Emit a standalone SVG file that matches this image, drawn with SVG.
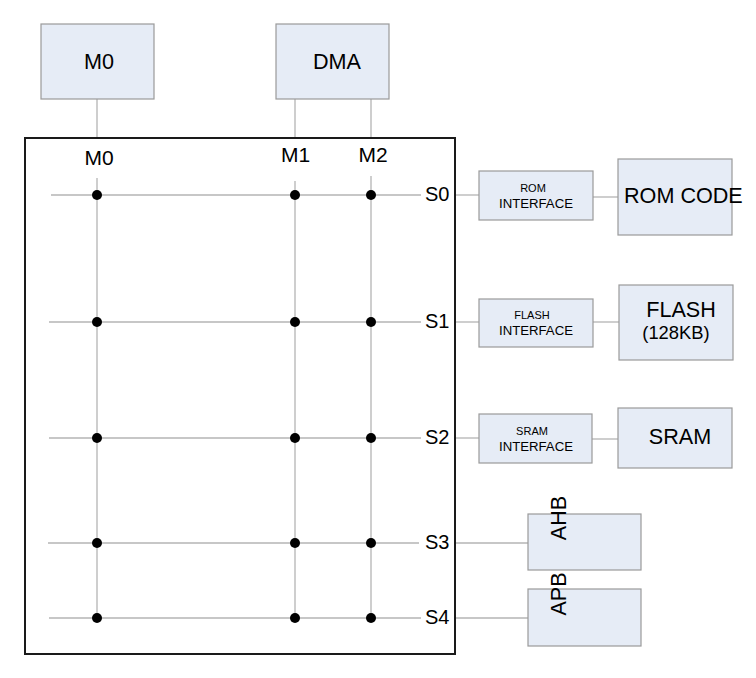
<svg xmlns="http://www.w3.org/2000/svg" width="756" height="678" viewBox="0 0 756 678">
<style>
text{font-family:"Liberation Sans",Arial,sans-serif;fill:#000}
.box{fill:#e6ecf6;stroke:#9a9a9a;stroke-width:1.2}
.ln{stroke:#b4b4b4;stroke-width:1.3;fill:none}
.dot{fill:#000}
.big{font-size:21.6px}
.lab{font-size:21px}
.sl{font-size:20px}
.sm{font-size:11px}
.md{font-size:13.2px}
.c{text-anchor:middle}
</style>
<rect width="756" height="678" fill="#fff"/>
<g id="connectors">
<line class="ln" x1="97" y1="99" x2="97" y2="138"/>
<line class="ln" x1="295" y1="99" x2="295" y2="138"/>
<line class="ln" x1="371" y1="99" x2="371" y2="138"/>
<line class="ln" x1="97" y1="178" x2="97" y2="618"/>
<line class="ln" x1="295" y1="181" x2="295" y2="618"/>
<line class="ln" x1="371" y1="176" x2="371" y2="618"/>
<line class="ln" x1="51" y1="195" x2="421" y2="195"/>
<line class="ln" x1="49" y1="322" x2="421" y2="322"/>
<line class="ln" x1="49" y1="438" x2="421" y2="438"/>
<line class="ln" x1="48" y1="543" x2="419" y2="543"/>
<line class="ln" x1="49" y1="618" x2="421" y2="618"/>
<line class="ln" x1="455" y1="195" x2="479" y2="195"/>
<line class="ln" x1="593" y1="197" x2="618" y2="197"/>
<line class="ln" x1="455" y1="322" x2="479" y2="322"/>
<line class="ln" x1="593" y1="322" x2="619" y2="322"/>
<line class="ln" x1="455" y1="438" x2="479" y2="438"/>
<line class="ln" x1="592" y1="439" x2="618" y2="439"/>
<line class="ln" x1="455" y1="543" x2="528" y2="543"/>
<line class="ln" x1="455" y1="618" x2="528" y2="618"/>
</g>
<g id="dots">
<circle class="dot" cx="97" cy="195" r="5"/><circle class="dot" cx="295" cy="195" r="5"/><circle class="dot" cx="371" cy="195" r="5"/>
<circle class="dot" cx="97" cy="322" r="5"/><circle class="dot" cx="295" cy="322" r="5"/><circle class="dot" cx="371" cy="322" r="5"/>
<circle class="dot" cx="97" cy="438" r="5"/><circle class="dot" cx="295" cy="438" r="5"/><circle class="dot" cx="371" cy="438" r="5"/>
<circle class="dot" cx="97" cy="543" r="5"/><circle class="dot" cx="295" cy="543" r="5"/><circle class="dot" cx="371" cy="543" r="5"/>
<circle class="dot" cx="97" cy="618" r="5"/><circle class="dot" cx="295" cy="618" r="5"/><circle class="dot" cx="371" cy="618" r="5"/>
</g>
<g id="matrix">
<rect x="25" y="138" width="430" height="516" fill="none" stroke="#1a1a1a" stroke-width="2"/>
<text class="lab c" x="99" y="165">M0</text>
<text class="lab c" x="295.5" y="162">M1</text>
<text class="lab c" x="373" y="162">M2</text>
<text class="sl" x="425" y="201">S0</text>
<text class="sl" x="425" y="328">S1</text>
<text class="sl" x="425" y="444">S2</text>
<text class="sl" x="425" y="549">S3</text>
<text class="sl" x="425" y="624">S4</text>
</g>
<g id="m0"><rect class="box" x="41" y="24" width="113" height="75"/><text class="big c" x="99" y="69">M0</text></g>
<g id="dma"><rect class="box" x="276" y="24" width="113" height="75"/><text class="big c" x="337" y="69">DMA</text></g>
<g id="rom-if"><rect class="box" x="479" y="171" width="114" height="49"/><text class="sm c" x="533" y="192">ROM</text><text class="md c" x="536" y="208">INTERFACE</text></g>
<g id="rom-code"><rect class="box" x="618" y="159" width="114" height="76"/><text class="big" x="624" y="203">ROM CODE</text></g>
<g id="flash-if"><rect class="box" x="479" y="299" width="114" height="48"/><text class="sm c" x="532" y="319">FLASH</text><text class="md c" x="536" y="335">INTERFACE</text></g>
<g id="flash"><rect class="box" x="619" y="285" width="114" height="75"/><text class="big c" x="681" y="317">FLASH</text><text class="c" style="font-size:18.4px" x="676" y="339">(128KB)</text></g>
<g id="sram-if"><rect class="box" x="479" y="414" width="113" height="49"/><text class="sm c" x="532" y="435">SRAM</text><text class="md c" x="536" y="451">INTERFACE</text></g>
<g id="sram"><rect class="box" x="618" y="408" width="114" height="60"/><text class="big c" x="680" y="444">SRAM</text></g>
<g id="ahb"><rect class="box" x="528" y="514" width="113" height="56"/><text class="big c" transform="translate(566,518) rotate(-90)" x="0" y="0">AHB</text></g>
<g id="apb"><rect class="box" x="528" y="589" width="113" height="57"/><text class="big c" transform="translate(566,594) rotate(-90)" x="0" y="0">APB</text></g>
</svg>
